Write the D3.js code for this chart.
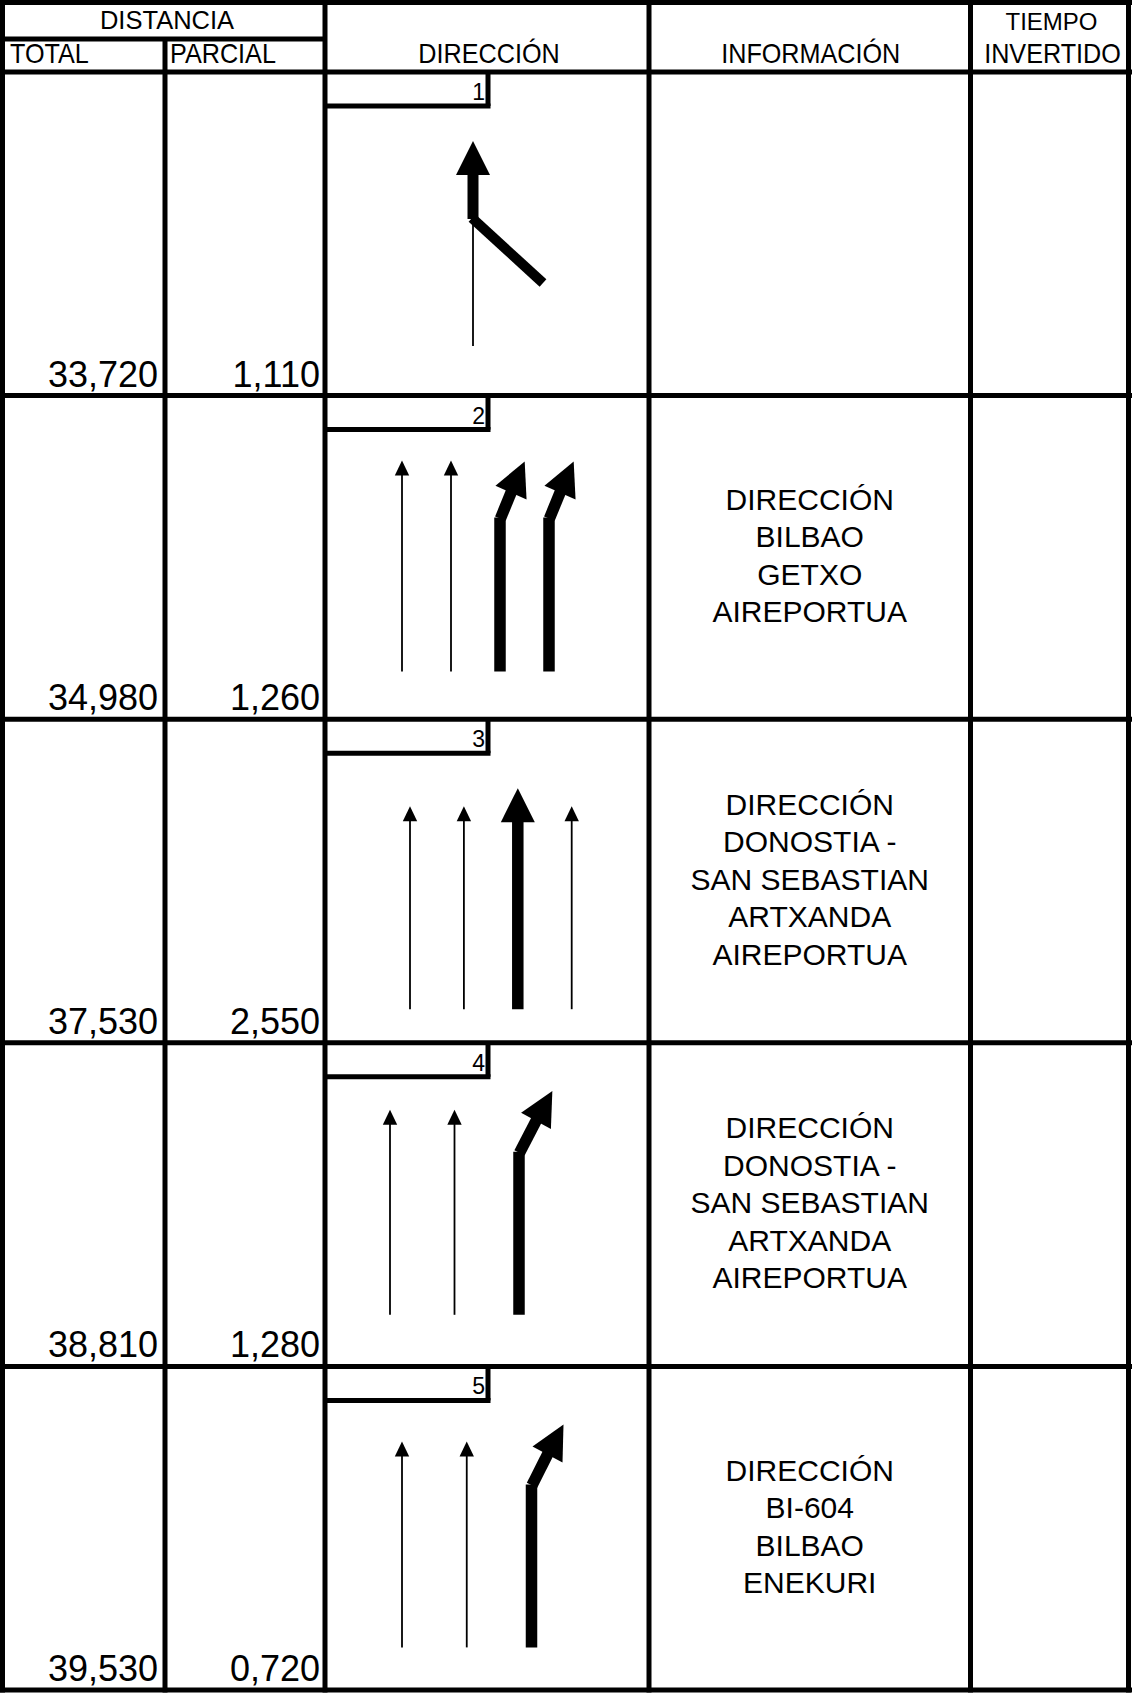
<!DOCTYPE html>
<html><head><meta charset="utf-8">
<script src="https://cdn.jsdelivr.net/npm/d3@7"></script>
<style>
body{margin:0;background:#fff}
svg{display:block}
text{font-family:"Liberation Sans",Arial,Helvetica,sans-serif;fill:#000}
</style>
</head><body><div id="chart"></div>
<script>
// ---------- data ----------
const stepNumbers = [1, 2, 3, 4, 5];
const totalKm = ["33,720", "34,980", "37,530", "38,810", "39,530"];
const partialKm = ["1,110", "1,260", "2,550", "1,280", "0,720"];
const infoLines = [
  [],
  ["DIRECCIÓN", "BILBAO", "GETXO", "AIREPORTUA"],
  ["DIRECCIÓN", "DONOSTIA -", "SAN SEBASTIAN", "ARTXANDA", "AIREPORTUA"],
  ["DIRECCIÓN", "DONOSTIA -", "SAN SEBASTIAN", "ARTXANDA", "AIREPORTUA"],
  ["DIRECCIÓN", "BI-604", "BILBAO", "ENEKURI"]
];
const headerTop = ["DISTANCIA", "TIEMPO"];
const headerBottom = ["TOTAL", "PARCIAL", "DIRECCIÓN", "INFORMACIÓN", "INVERTIDO"];
const laneTypes = [
  ["exit"],
  ["thin", "thin", "bend", "bend"],
  ["thin", "thin", "thick", "thin"],
  ["thin", "thin", "bend"],
  ["thin", "thin", "bend"]
];

// ---------- layout ----------
const W = 1132, H = 1693, LW = 5;
const colX = [2.5, 165, 325, 649, 970.5, 1128.5];
const topY = 2.5, midHeaderY = 39;
const rowY = d3.scaleLinear().domain([0, 5]).range([72, 1690]);
const boxRight = 488, boxH = 34;
// lane geometry (cell-relative, x measured from the DIRECCIÓN column line)
const laneGeom = [
  {range: [148, 148]},
  {range: [77, 224], thinTip: 65, bottom: 276, bendY: 122, bdx: 11, bdy: -25},
  {range: [85, 246.7], thinTip: 87, bottom: 290, thickTip: 69},
  {range: [65, 194], thinTip: 67, bottom: 272, bendY: 109, bdx: 17, bdy: -31},
  {range: [77, 206.5], thinTip: 75, bottom: 281, bendY: 118, bdx: 16, bdy: -30}
];

const svg = d3.select("#chart").append("svg").attr("width", W).attr("height", H);
svg.append("rect").attr("width", W).attr("height", H).attr("fill", "#fff");

const grid = svg.append("g").attr("stroke", "#000").attr("stroke-width", LW).attr("fill", "none");
function line(g, x1, y1, x2, y2) {
  g.append("line").attr("x1", x1).attr("y1", y1).attr("x2", x2).attr("y2", y2);
}
const bottomY = rowY(5);
// horizontal lines
line(grid, 0, topY, W, topY);
line(grid, 0, midHeaderY, colX[2], midHeaderY);
for (let i = 0; i <= 5; i++) line(grid, 0, rowY(i), W, rowY(i));
// vertical lines
line(grid, colX[0], 0, colX[0], bottomY + 2.5);
line(grid, colX[1], midHeaderY, colX[1], bottomY + 2.5);
[2, 3, 4, 5].forEach(c => line(grid, colX[c], 0, colX[c], bottomY + 2.5));
// number boxes
stepNumbers.forEach((n, i) => {
  const y0 = rowY(i);
  line(grid, colX[2], y0 + boxH, boxRight + 2.5, y0 + boxH);
  line(grid, boxRight, y0, boxRight, y0 + boxH);
});

// header texts
const hdr = svg.append("g");
hdr.append("text").attr("font-size", 25.5).attr("x", 167).attr("y", 29.3)
  .attr("text-anchor", "middle").text(headerTop[0]);
hdr.append("text").attr("font-size", 24).attr("x", (colX[4] + colX[5]) / 2 + 2).attr("y", 30)
  .attr("text-anchor", "middle").text(headerTop[1]);
const sx = 0.9;
function condensed(x, y, anchor, txt) {
  hdr.append("g").attr("transform", `translate(${x},${y}) scale(${sx},1)`)
    .append("text").attr("font-size", 28).attr("text-anchor", anchor).text(txt);
}
condensed(10, 63.3, "start", headerBottom[0]);
condensed(colX[1] + 5, 63.3, "start", headerBottom[1]);
condensed((colX[2] + colX[3]) / 2 + 2, 63.3, "middle", headerBottom[2]);
condensed((colX[3] + colX[4]) / 2 + 1, 63.3, "middle", headerBottom[3]);
condensed((colX[4] + colX[5]) / 2 + 3, 63.3, "middle", headerBottom[4]);

// distances
const dist = svg.append("g").attr("font-size", 36).attr("text-anchor", "end");
totalKm.forEach((t, i) => {
  dist.append("text").attr("x", colX[1] - 7).attr("y", rowY(i + 1) - 9).text(t);
  dist.append("text").attr("x", colX[2] - 5).attr("y", rowY(i + 1) - 9).text(partialKm[i]);
});

// step numbers
svg.append("g").attr("font-size", 23).attr("text-anchor", "end")
  .selectAll("text").data(stepNumbers).join("text")
  .attr("x", boxRight - 3).attr("y", (d, i) => rowY(i) + boxH - 6).text(d => d);

// info text
const L = 37.5, cap = 21.5;
infoLines.forEach((lines, i) => {
  const mid = (rowY(i) + rowY(i + 1)) / 2 - 2;
  const first = mid - ((lines.length - 1) * L + cap) / 2 + cap;
  svg.append("g").attr("font-size", 30).attr("text-anchor", "middle")
    .selectAll("text").data(lines).join("text")
    .attr("x", (colX[3] + colX[4]) / 2).attr("y", (d, k) => first + k * L).text(d => d);
});

// arrows
function head(g, tx, ty, ux, uy, len, hw) {
  const bx = tx - ux * len, by = ty - uy * len;
  const px = -uy, py = ux;
  g.append("path").attr("d", `M${tx},${ty}L${bx + px * hw},${by + py * hw}L${bx - px * hw},${by - py * hw}Z`)
    .attr("fill", "#000").attr("stroke", "none");
}
const arrows = svg.append("g").attr("stroke", "#000").attr("fill", "none");
laneTypes.forEach((lanes, i) => {
  const g = arrows.append("g").attr("transform", `translate(${colX[2]},${rowY(i)})`);
  const geo = laneGeom[i];
  const xs = d3.scalePoint().domain(d3.range(lanes.length)).range(geo.range);
  lanes.forEach((type, k) => {
    const x = xs(k);
    if (type === "exit") {
      line(g.append("g").attr("stroke-width", 1.8), x, 150, x, 274);
      const t = g.append("g").attr("stroke-width", 11);
      line(t, x, 147, x, 100);
      head(g, x, 69, 0, -1, 34, 17);
      const d = g.append("g").attr("stroke-width", 10);
      line(d, x - 1, 146, x + 70, 211);
    } else if (type === "thin") {
      line(g.append("g").attr("stroke-width", 1.8), x, geo.bottom, x, geo.thinTip + 13);
      head(g, x, geo.thinTip, 0, -1, 15, 7.2);
    } else if (type === "thick") {
      line(g.append("g").attr("stroke-width", 11.5), x, geo.bottom, x, geo.thickTip + 32);
      head(g, x, geo.thickTip, 0, -1, 34, 17);
    } else if (type === "bend") {
      const t = g.append("g").attr("stroke-width", 11.5);
      line(t, x, geo.bottom, x, geo.bendY);
      const n = Math.hypot(geo.bdx, geo.bdy), ux = geo.bdx / n, uy = geo.bdy / n;
      const bx = x + geo.bdx, by = geo.bendY + geo.bdy;
      line(t, x + ux * 1, geo.bendY + 1, bx + ux * 2, by + uy * 2);
      head(g, bx + ux * 34, by + uy * 34, ux, uy, 34, 17);
    }
  });
});
</script>
</body></html>
